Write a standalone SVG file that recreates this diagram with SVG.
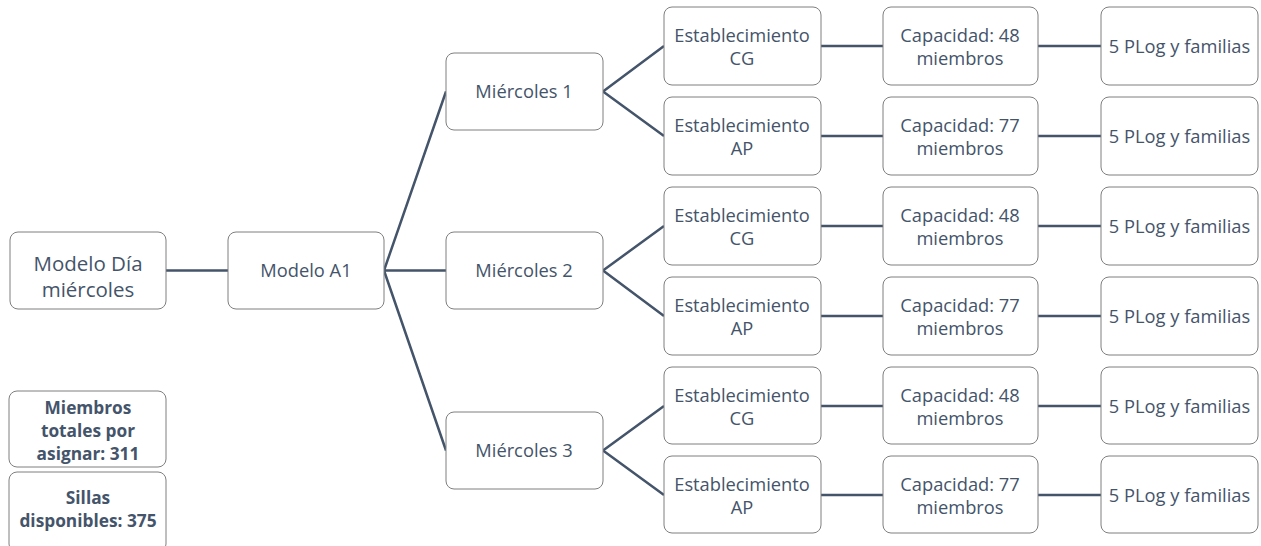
<svg xmlns="http://www.w3.org/2000/svg" width="1261" height="546" viewBox="0 0 1261 546">
<style>
.box{fill:#ffffff;stroke:#7f7f7f;stroke-width:1}
.t{font-family:"Open Sans","Liberation Sans",sans-serif;font-size:18.3px;fill:#44546a;text-anchor:middle}
.big{font-size:20.5px}
.b{font-weight:bold;font-size:17.3px}
.c{fill:none;stroke:#44546a;stroke-width:2.5}
</style>
<rect width="1261" height="546" fill="#ffffff"/>
<g id="connectors">
<path class="c" d="M166 270.5H228"/>
<path class="c" d="M384 270.5L446 91.5M384 270.5H446M384 270.5L446 450.5"/>
<path class="c" d="M603 91.5L664 46M603 91.5L664 136"/>
<path class="c" d="M603 270.5L664 226M603 270.5L664 316"/>
<path class="c" d="M603 450.5L664 406M603 450.5L664 495"/>
<path class="c" d="M821 46H883M1038 46H1101M821 136H883M1038 136H1101"/>
<path class="c" d="M821 226H883M1038 226H1101M821 316H883M1038 316H1101"/>
<path class="c" d="M821 406H883M1038 406H1101M821 495H883M1038 495H1101"/>
</g>
<g id="n-dia"><rect class="box" x="10" y="232" width="156" height="77" rx="8"/><text class="t big" x="88" y="271">Modelo Día</text><text class="t big" x="88" y="297">miércoles</text></g>
<g id="n-a1"><rect class="box" x="228" y="232" width="156" height="77" rx="8"/><text class="t" x="306" y="277">Modelo A1</text></g>
<g id="n-miembros"><rect class="box" x="9" y="391" width="157" height="76" rx="8"/><text class="t b" x="88" y="414">Miembros</text><text class="t b" x="88" y="437">totales por</text><text class="t b" x="88" y="460">asignar: 311</text></g>
<g id="n-sillas"><rect class="box" x="9" y="472" width="157" height="80" rx="8"/><text class="t b" x="88" y="504">Sillas</text><text class="t b" x="88" y="527">disponibles: 375</text></g>
<g id="n-m1"><rect class="box" x="446" y="53" width="157" height="77" rx="8"/><text class="t" x="524" y="98">Miércoles 1</text></g>
<g id="n-m2"><rect class="box" x="446" y="232" width="157" height="77" rx="8"/><text class="t" x="524" y="277">Miércoles 2</text></g>
<g id="n-m3"><rect class="box" x="446" y="412" width="157" height="77" rx="8"/><text class="t" x="524" y="457">Miércoles 3</text></g>
<g id="n-e1"><rect class="box" x="664" y="7" width="157" height="78" rx="8"/><text class="t" x="742" y="42">Establecimiento</text><text class="t" x="742" y="65">CG</text></g>
<g id="n-e2"><rect class="box" x="664" y="97" width="157" height="78" rx="8"/><text class="t" x="742" y="132">Establecimiento</text><text class="t" x="742" y="155">AP</text></g>
<g id="n-e3"><rect class="box" x="664" y="187" width="157" height="78" rx="8"/><text class="t" x="742" y="222">Establecimiento</text><text class="t" x="742" y="245">CG</text></g>
<g id="n-e4"><rect class="box" x="664" y="277" width="157" height="78" rx="8"/><text class="t" x="742" y="312">Establecimiento</text><text class="t" x="742" y="335">AP</text></g>
<g id="n-e5"><rect class="box" x="664" y="367" width="157" height="77" rx="8"/><text class="t" x="742" y="402">Establecimiento</text><text class="t" x="742" y="425">CG</text></g>
<g id="n-e6"><rect class="box" x="664" y="456" width="157" height="77" rx="8"/><text class="t" x="742" y="491">Establecimiento</text><text class="t" x="742" y="514">AP</text></g>
<g id="n-c1"><rect class="box" x="883" y="7" width="155" height="78" rx="8"/><text class="t" x="960" y="42">Capacidad: 48</text><text class="t" x="960" y="65">miembros</text></g>
<g id="n-c2"><rect class="box" x="883" y="97" width="155" height="78" rx="8"/><text class="t" x="960" y="132">Capacidad: 77</text><text class="t" x="960" y="155">miembros</text></g>
<g id="n-c3"><rect class="box" x="883" y="187" width="155" height="78" rx="8"/><text class="t" x="960" y="222">Capacidad: 48</text><text class="t" x="960" y="245">miembros</text></g>
<g id="n-c4"><rect class="box" x="883" y="277" width="155" height="78" rx="8"/><text class="t" x="960" y="312">Capacidad: 77</text><text class="t" x="960" y="335">miembros</text></g>
<g id="n-c5"><rect class="box" x="883" y="367" width="155" height="77" rx="8"/><text class="t" x="960" y="402">Capacidad: 48</text><text class="t" x="960" y="425">miembros</text></g>
<g id="n-c6"><rect class="box" x="883" y="456" width="155" height="77" rx="8"/><text class="t" x="960" y="491">Capacidad: 77</text><text class="t" x="960" y="514">miembros</text></g>
<g id="n-p1"><rect class="box" x="1101" y="7" width="157" height="78" rx="8"/><text class="t" x="1179.5" y="53">5 PLog y familias</text></g>
<g id="n-p2"><rect class="box" x="1101" y="97" width="157" height="78" rx="8"/><text class="t" x="1179.5" y="143">5 PLog y familias</text></g>
<g id="n-p3"><rect class="box" x="1101" y="187" width="157" height="78" rx="8"/><text class="t" x="1179.5" y="233">5 PLog y familias</text></g>
<g id="n-p4"><rect class="box" x="1101" y="277" width="157" height="78" rx="8"/><text class="t" x="1179.5" y="323">5 PLog y familias</text></g>
<g id="n-p5"><rect class="box" x="1101" y="367" width="157" height="77" rx="8"/><text class="t" x="1179.5" y="413">5 PLog y familias</text></g>
<g id="n-p6"><rect class="box" x="1101" y="456" width="157" height="77" rx="8"/><text class="t" x="1179.5" y="502">5 PLog y familias</text></g>
</svg>
